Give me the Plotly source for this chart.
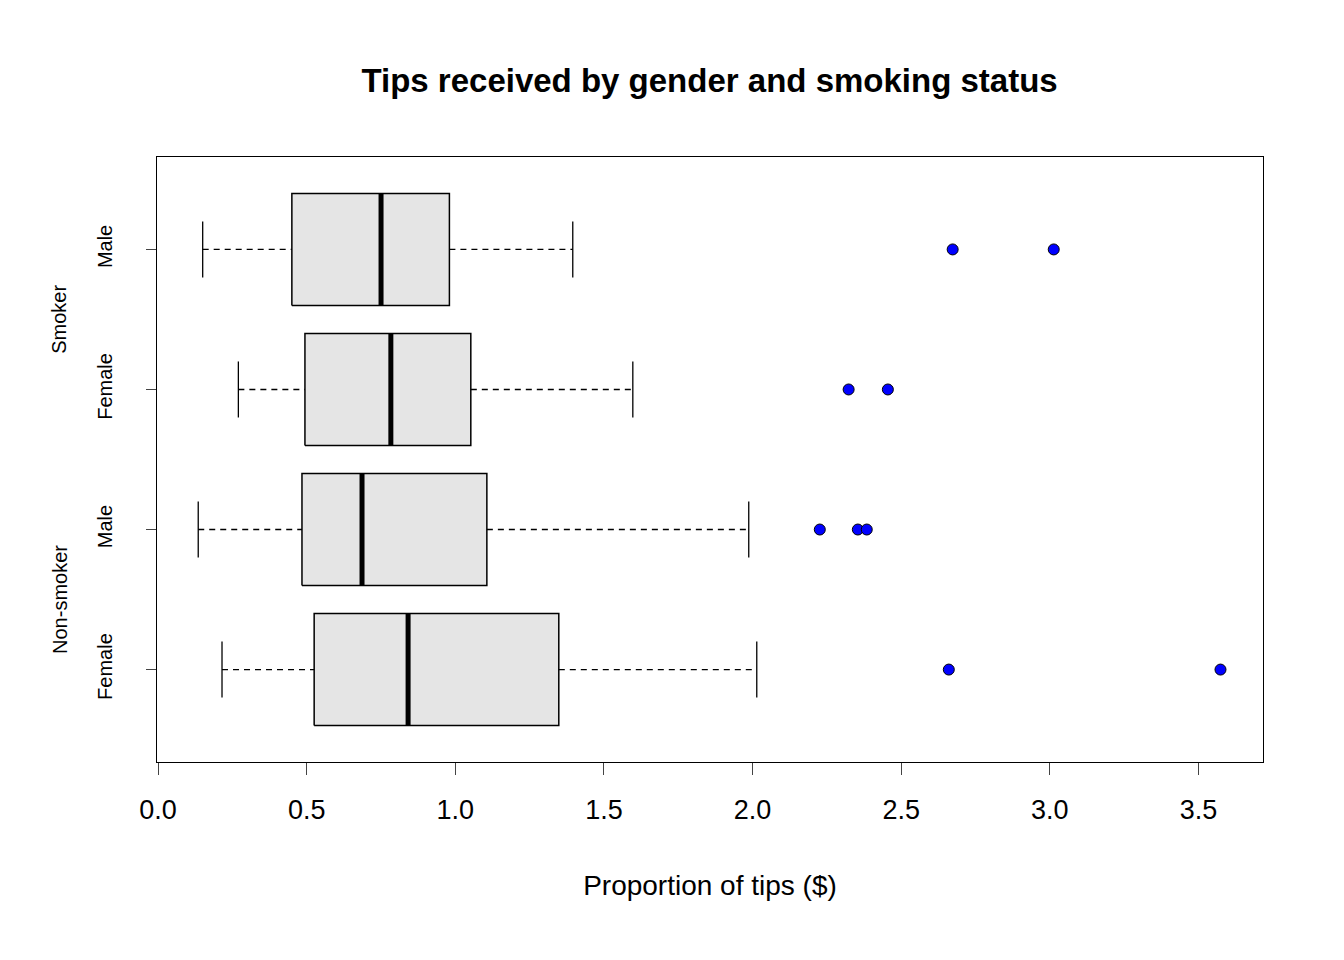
import plotly.graph_objects as go

# Groups, bottom to top
groups = ["Non-smoker Female", "Non-smoker Male", "Smoker Female", "Smoker Male"]
tick_labels = ["Female", "Male", "Female", "Male"]
lower = [0.215, 0.135, 0.27, 0.15]
q1 = [0.525, 0.484, 0.494, 0.45]
median = [0.841, 0.686, 0.783, 0.75]
q3 = [1.348, 1.106, 1.052, 0.98]
upper = [2.014, 1.987, 1.597, 1.395]
outliers = [[2.66, 3.574], [2.226, 2.354, 2.384], [2.323, 2.455], [2.673, 3.013]]

half = 0.4
cap = 0.1
fig = go.Figure()

for i in range(len(groups)):
    y = i + 1
    # box
    fig.add_trace(go.Scatter(
        x=[q1[i], q3[i], q3[i], q1[i], q1[i]],
        y=[y - half, y - half, y + half, y + half, y - half],
        mode="lines", fill="toself", fillcolor="#e5e5e5",
        line=dict(color="black", width=1.5), hoverinfo="skip"))
    # median
    fig.add_trace(go.Scatter(x=[median[i], median[i]], y=[y - half, y + half],
                             mode="lines", line=dict(color="black", width=5), hoverinfo="skip"))
    # dashed whiskers
    fig.add_trace(go.Scatter(x=[lower[i], q1[i], None, q3[i], upper[i]], y=[y, y, None, y, y],
                             mode="lines", line=dict(color="black", width=1.3, dash="6px,5px"),
                             hoverinfo="skip"))
    # caps
    fig.add_trace(go.Scatter(x=[lower[i], lower[i], None, upper[i], upper[i]],
                             y=[y - cap * 2, y + cap * 2, None, y - cap * 2, y + cap * 2],
                             mode="lines", line=dict(color="black", width=1.3), hoverinfo="skip"))
    # outliers
    fig.add_trace(go.Scatter(x=outliers[i], y=[y] * len(outliers[i]), mode="markers",
                             marker=dict(color="#0000ff", size=11, line=dict(color="black", width=1))))

fig.update_layout(
    width=1344, height=960, showlegend=False,
    plot_bgcolor="white", paper_bgcolor="white",
    font=dict(family="Liberation Sans, Arial, sans-serif", color="black"),
    margin=dict(l=149, r=89, t=149, b=206),
    title=dict(text="<b>Tips received by gender and smoking status</b>", x=0.522, y=0.925,
               xanchor="center", yanchor="middle", font=dict(size=33)),
    xaxis=dict(range=[-0.0037, 3.717], tickvals=[0, 0.5, 1, 1.5, 2, 2.5, 3, 3.5],
               ticktext=["0.0", "0.5", "1.0", "1.5", "2.0", "2.5", "3.0", "3.5"],
               ticks="outside", ticklen=12, tickfont=dict(size=27), ticklabelstandoff=12,
               showgrid=False, zeroline=False, showline=True, linecolor="black", mirror=True,
               title=dict(text="Proportion of tips ($)", font=dict(size=28), standoff=50)),
    yaxis=dict(range=[0.34, 4.66], tickvals=[1, 2, 3, 4], ticktext=tick_labels,
               tickangle=-90, ticks="outside", ticklen=10, tickfont=dict(size=20),
               ticklabelstandoff=26,
               showgrid=False, zeroline=False, showline=True, linecolor="black", mirror=True),
    annotations=[
        dict(text="Smoker", textangle=-90, xref="paper", yref="y", x=-0.1, y=3.5,
             showarrow=False, font=dict(size=20)),
        dict(text="Non-smoker", textangle=-90, xref="paper", yref="y", x=-0.1, y=1.5,
             showarrow=False, font=dict(size=20)),
    ],
)

fig.write_html("out.html")
